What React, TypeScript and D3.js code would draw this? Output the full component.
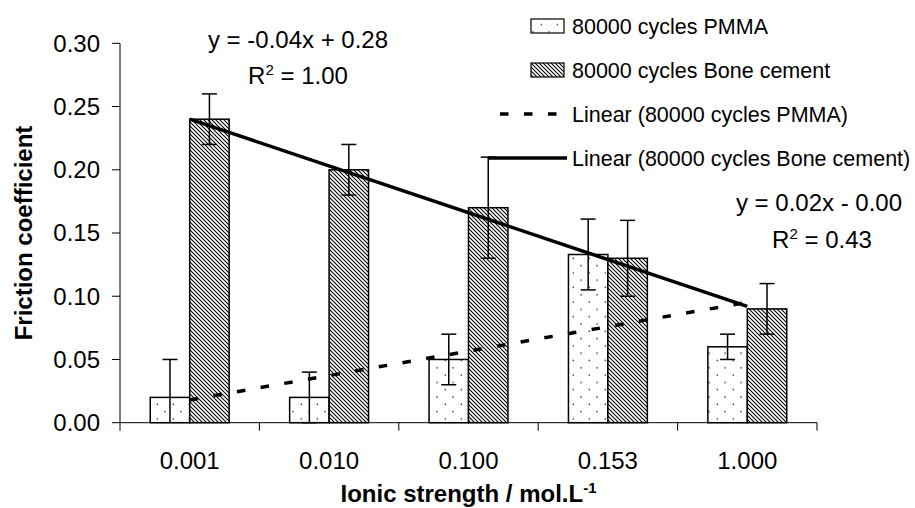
import React from "react";
import * as d3 from "d3";

const categories = ["0.001", "0.010", "0.100", "0.153", "1.000"];
const seriesNames = ["80000 cycles PMMA", "80000 cycles Bone cement"];
const pmmaValues = [0.02, 0.02, 0.05, 0.133, 0.06];
const pmmaErrors = [0.03, 0.02, 0.02, 0.028, 0.01];
const boneValues = [0.24, 0.2, 0.17, 0.13, 0.09];
const boneErrors = [0.02, 0.02, 0.04, 0.03, 0.02];
const yTicks = [0, 0.05, 0.1, 0.15, 0.2, 0.25, 0.3];
const trendNames = ["Linear (80000 cycles PMMA)", "Linear (80000 cycles Bone cement)"];
const boneEquation = ["y = -0.04x + 0.28", "1.00"];
const pmmaEquation = ["y = 0.02x - 0.00", "0.43"];

const FONT = "'Liberation Sans', Arial, sans-serif";

function linFit(vals: number[]) {
  const xs = vals.map((_, i) => i + 1);
  const mx = d3.mean(xs) as number;
  const my = d3.mean(vals) as number;
  const sxy = d3.sum(xs, (xv, i) => (xv - mx) * (vals[i] - my));
  const sxx = d3.sum(xs, (xv) => (xv - mx) ** 2);
  const slope = sxy / sxx;
  return { slope, intercept: my - slope * mx };
}

export default function App() {
  const W = 915;
  const H = 508;
  const x = d3.scaleBand<string>().domain(categories).range([120, 817]).paddingInner(0).paddingOuter(0);
  const y = d3.scaleLinear().domain([0, 0.3]).range([422.7, 43.3]);
  const bw = x.bandwidth();
  const barW = bw * 0.283;
  const sub = d3.scaleBand<string>().domain(seriesNames).range([-barW, barW]);
  const cx = (c: string) => (x(c) as number) + bw / 2;

  const series = [
    { name: seriesNames[0], values: pmmaValues, errors: pmmaErrors, fill: "url(#dots)" },
    { name: seriesNames[1], values: boneValues, errors: boneErrors, fill: "url(#hatch)" },
  ];

  const fits = [linFit(pmmaValues), linFit(boneValues)];
  const trendPath = (f: { slope: number; intercept: number }) =>
    d3
      .line<number>()
      .x((i) => cx(categories[i - 1]))
      .y((i) => y(f.slope * i + f.intercept))([1, categories.length]) as string;

  const capW = 7.5;
  const y0 = y(0);
  const xEnd = 817;

  const legendRows = [26, 70, 114, 158];

  return (
    <svg
      width={W}
      height={H}
      style={{ position: "absolute", left: 0, top: 0, background: "#fff" }}
      fontFamily={FONT}
    >
      <defs>
        <pattern id="dots" patternUnits="userSpaceOnUse" width={16} height={14.6}>
          <rect width={16} height={14.6} fill="#fff" />
          <rect x={4.4} y={2.1} width={1.4} height={1.4} fill="#333" />
          <rect x={12.6} y={9.4} width={1.4} height={1.4} fill="#333" />
        </pattern>
        <pattern id="hatch" patternUnits="userSpaceOnUse" width={4} height={4}>
          <rect width={4} height={4} fill="#fff" />
          <path d="M-1,-1 L5,5 M-1,3 L1,5 M3,-1 L5,1" stroke="#000" strokeWidth={1.05} />
        </pattern>
      </defs>
      <rect width={W} height={H} fill="#fff" />

      {/* bars */}
      {series.map((s) =>
        s.values.map((v, i) => {
          const c = categories[i];
          const bx = cx(c) + (sub(s.name) as number);
          return (
            <rect
              key={s.name + c}
              x={bx}
              y={y(v)}
              width={sub.bandwidth()}
              height={y0 - y(v)}
              fill={s.fill}
              stroke="#000"
              strokeWidth={1.5}
            />
          );
        })
      )}

      {/* error bars */}
      {series.map((s) =>
        s.values.map((v, i) => {
          const c = categories[i];
          const ex = cx(c) + (sub(s.name) as number) + sub.bandwidth() / 2;
          const hi = v + s.errors[i];
          const loRaw = v - s.errors[i];
          const lo = Math.max(0, loRaw);
          return (
            <g key={"e" + s.name + c} stroke="#000" strokeWidth={1.5}>
              <line x1={ex} x2={ex} y1={y(hi)} y2={y(lo)} />
              <line x1={ex - capW} x2={ex + capW} y1={y(hi)} y2={y(hi)} />
              {loRaw >= -1e-9 && <line x1={ex - capW} x2={ex + capW} y1={y(lo)} y2={y(lo)} />}
            </g>
          );
        })
      )}

      {/* trend lines */}
      <path d={trendPath(fits[0])} stroke="#000" strokeWidth={3.5} fill="none" strokeDasharray="8.5,15.5" />
      <path d={trendPath(fits[1])} stroke="#000" strokeWidth={3.5} fill="none" />

      {/* axes */}
      <g stroke="#000" strokeWidth={1}>
        <line x1={120} x2={120} y1={y(0.3)} y2={y0} />
        {yTicks.map((t) => (
          <line key={"yt" + t} x1={112} x2={120} y1={y(t)} y2={y(t)} />
        ))}
        <line x1={120} x2={xEnd} y1={y0} y2={y0} />
        {categories.map((c) => (
          <line key={"xt" + c} x1={x(c) as number} x2={x(c) as number} y1={y0} y2={y0 + 8} />
        ))}
        <line x1={xEnd} x2={xEnd} y1={y0} y2={y0 + 8} />
      </g>
      {yTicks.map((t) => (
        <text key={"yl" + t} x={100} y={y(t)} dy="0.35em" textAnchor="end" fontSize={24}>
          {d3.format(".2f")(t)}
        </text>
      ))}
      {categories.map((c) => (
        <text key={"xl" + c} x={cx(c)} y={461} dy="0.35em" textAnchor="middle" fontSize={24}>
          {c}
        </text>
      ))}

      {/* axis titles */}
      <text
        transform={`translate(24,${(y(0) + y(0.3)) / 2}) rotate(-90)`}
        textAnchor="middle"
        dy="0.35em"
        fontSize={24}
        fontWeight="bold"
      >
        Friction coefficient
      </text>
      <text x={(120 + xEnd) / 2} y={494} dy="0.35em" textAnchor="middle" fontSize={24} fontWeight="bold">
        Ionic strength / mol.L<tspan dy="-9" fontSize={15}>-1</tspan>
      </text>

      {/* equations */}
      <text x={298} y={40} dy="0.35em" textAnchor="middle" fontSize={24}>
        {boneEquation[0]}
      </text>
      <text x={298} y={76} dy="0.35em" textAnchor="middle" fontSize={24}>
        R<tspan dy="-9" fontSize={15}>2</tspan>
        <tspan dy="9"> = {boneEquation[1]}</tspan>
      </text>
      <text x={819} y={203} dy="0.35em" textAnchor="middle" fontSize={24}>
        {pmmaEquation[0]}
      </text>
      <text x={822} y={240} dy="0.35em" textAnchor="middle" fontSize={24}>
        R<tspan dy="-9" fontSize={15}>2</tspan>
        <tspan dy="9"> = {pmmaEquation[1]}</tspan>
      </text>

      {/* legend */}
      {series.map((s, i) => (
        <g key={"lg" + s.name}>
          <rect x={531} y={legendRows[i] - 7} width={33} height={14} fill={s.fill} stroke="#000" strokeWidth={1.2} />
          <text x={572} y={legendRows[i]} dy="0.35em" fontSize={21.5}>
            {s.name}
          </text>
        </g>
      ))}
      {trendNames.map((n, i) => (
        <g key={"lt" + n}>
          <line
            x1={488}
            x2={567}
            y1={legendRows[i + 2]}
            y2={legendRows[i + 2]}
            stroke="#000"
            strokeWidth={3.5}
            strokeDasharray={i === 0 ? "8.5,15.5" : undefined}
            strokeDashoffset={i === 0 ? -12 : undefined}
          />
          <text x={572} y={legendRows[i + 2]} dy="0.35em" fontSize={21.5}>
            {n}
          </text>
        </g>
      ))}
    </svg>
  );
}
